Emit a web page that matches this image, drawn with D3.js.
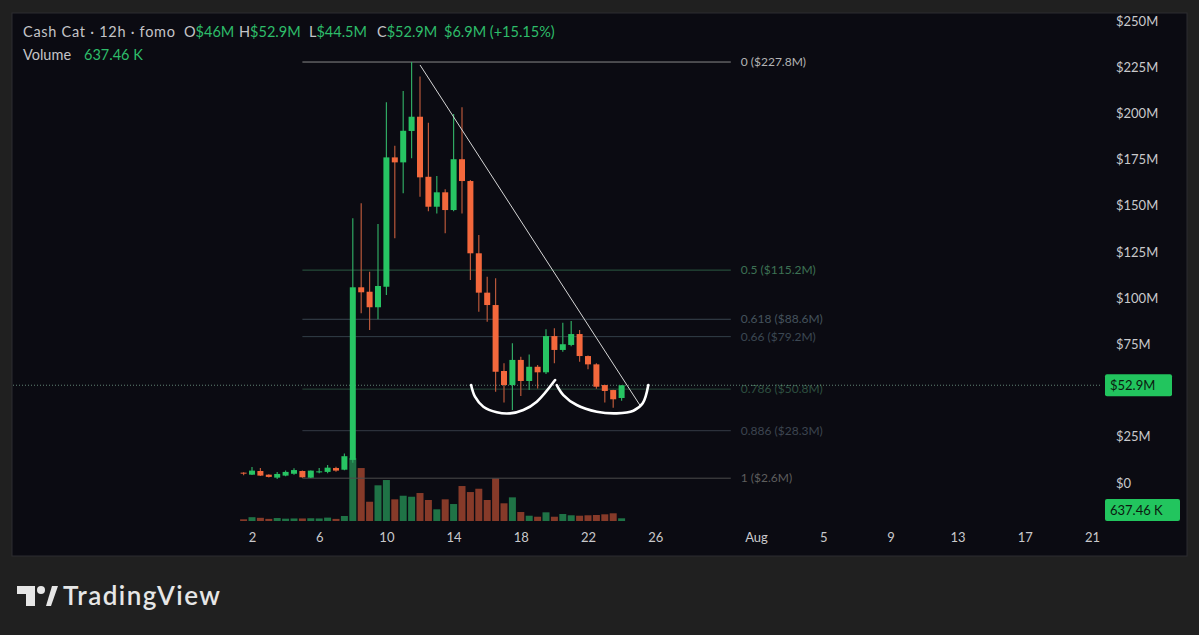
<!DOCTYPE html>
<html>
<head>
<meta charset="utf-8">
<script src="https://cdn.jsdelivr.net/npm/d3@7"></script>
<style>
  html, body { margin: 0; padding: 0; background: #202020; }
  svg { display: block; }
  text { font-family: Lato, "Noto Sans", sans-serif; }
</style>
</head>
<body>
<script>
// candles are 12h apart, first one at this time
const candleStart = '2024-07-01T12:00:00Z';

// OHLC in $M
const opens = [5.6, 4.5, 6.5, 4.5, 2.9, 4.0, 5.0, 6.5, 2.9, 5.8, 6.0, 8.1,
  7.2, 12.5, 105.9, 103.5, 95.1, 106.2, 176.2, 173.5, 190.5, 198.2, 165.7, 149.5,
  157.3, 147.7, 175.2, 163.4, 124.3, 103.0, 96.3, 60.6, 53.0, 66.6, 55.2, 62.9,
  59.9, 79.5, 72.0, 74.7, 80.6, 68.7, 64.2, 53.0, 50.3, 46.0];
const highs = [5.8, 8.7, 8.1, 4.7, 6.0, 6.7, 8.0, 6.7, 6.8, 8.1, 9.7, 8.8,
  15.9, 143.2, 151.4, 114.3, 140.2, 206.0, 182.5, 212.1, 227.8, 219.9, 195.0, 166.1,
  158.9, 199.7, 203.3, 164.0, 134.2, 111.6, 110.8, 64.8, 75.6, 68.3, 69.6, 63.8,
  83.2, 83.7, 86.7, 87.7, 82.8, 69.0, 64.8, 53.2, 50.5, 52.9];
const lows = [4.2, 4.3, 3.8, 3.0, 2.2, 3.6, 4.5, 2.9, 2.7, 5.3, 5.3, 6.1,
  6.9, 11.0, 91.8, 82.8, 88.6, 101.7, 132.4, 156.8, 175.7, 154.9, 147.0, 145.9,
  135.1, 147.0, 145.9, 109.8, 92.7, 87.3, 49.4, 43.5, 39.5, 47.1, 50.3, 51.2,
  59.0, 64.8, 71.0, 74.0, 65.6, 61.5, 51.0, 43.5, 40.7, 44.5];
const closes = [5.3, 6.7, 4.0, 3.3, 4.9, 6.0, 7.0, 3.1, 6.7, 6.3, 8.3, 6.7,
  14.5, 105.9, 103.2, 95.1, 106.6, 176.2, 173.5, 190.6, 198.2, 165.4, 149.5, 157.3,
  147.7, 175.2, 163.4, 124.3, 103.0, 96.3, 60.2, 53.0, 66.6, 55.2, 62.9, 59.9,
  79.5, 72.0, 75.1, 80.6, 68.7, 64.2, 52.1, 49.8, 45.3, 52.9];
// volume in thousands
const volumes = [400, 900, 750, 500, 700, 550, 600, 600, 650, 600, 800, 500,
  1180, 14870, 12510, 4550, 8430, 9680, 5120, 5970, 5730, 6610, 4960, 2760,
  5120, 4010, 8260, 6840, 7620, 4960, 10080, 4180, 5590, 2120, 1250, 1010,
  2050, 1010, 1650, 1350, 1250, 1350, 1420, 1580, 1820, 637.46];

const priceTicks = [0, 25, 75, 100, 125, 150, 175, 200, 225, 250];
const dateTicks = ['2024-07-02', '2024-07-06', '2024-07-10', '2024-07-14', '2024-07-18',
  '2024-07-22', '2024-07-26', '2024-08-01', '2024-08-05', '2024-08-09', '2024-08-13',
  '2024-08-17', '2024-08-21'];

// fib retracement drawn on the chart
const fibLevels = [0, 0.5, 0.618, 0.66, 0.786, 0.886, 1];
const fibPrices = [227.8, 115.2, 88.6, 79.2, 50.8, 28.3, 2.6];
const fibRange = ['2024-07-05T00:00:00Z', '2024-07-30T12:00:00Z'];

// falling trend line
const trendDates = ['2024-07-12T00:00:00Z', '2024-07-25T02:00:00Z'];
const trendPrices = [226.2, 42.2];

// hand drawn double bottom
const arcLeftDates = ['2024-07-15T01:00:00Z', '2024-07-15T06:30:00Z', '2024-07-15T18:30:00Z',
  '2024-07-16T13:40:00Z', '2024-07-17T08:40:00Z', '2024-07-18T03:40:00Z', '2024-07-18T22:50:00Z',
  '2024-07-20T01:00:00Z'];
const arcLeftPrices = [53.0, 46.7, 41.3, 38.3, 37.7, 39.5, 44.0, 55.7];
const arcRightDates = ['2024-07-20T03:20:00Z', '2024-07-20T12:45:00Z', '2024-07-21T07:50:00Z',
  '2024-07-22T12:30:00Z', '2024-07-23T17:00:00Z', '2024-07-24T16:50:00Z', '2024-07-25T06:10:00Z',
  '2024-07-25T14:10:00Z'];
const arcRightPrices = [53.0, 47.6, 42.2, 38.6, 37.7, 39.1, 43.1, 53.0];

const lastPrice = 52.9;
const lastVolume = 637.46;

const green = '#27c463';
const red = '#f4683c';
const fibLineColors = ['#8a8a8a', '#2c5a42', '#3a4650', '#333f48', '#284a3a', '#343b45', '#4c4c4c'];
const fibTextColors = ['#b4b4b4', '#3d7254', '#45535d', '#3c4853', '#2e5040', '#3d4550', '#5e5e5e'];

const width = 1199;
const height = 635;
const panel = { x: 12, y: 13, w: 1175, h: 543 };
const plotRight = 1100;

const svg = d3.select('body').append('svg')
  .attr('width', width)
  .attr('height', height);

svg.append('rect')
  .attr('width', width).attr('height', height)
  .attr('fill', '#202020');

svg.append('rect')
  .attr('x', panel.x).attr('y', panel.y)
  .attr('width', panel.w).attr('height', panel.h)
  .attr('fill', '#0b0b12')
  .attr('stroke', '#2c2c30');

// scales
const x = d3.scaleUtc()
  .domain([new Date('2024-07-02T00:00:00Z'), new Date('2024-08-21T00:00:00Z')])
  .range([252, 1092]);
const y = d3.scaleLinear().domain([0, 250]).range([483, 21]);
const yVol = d3.scaleLinear().domain([0, 15000]).range([521, 457.5]);

const t0 = new Date(candleStart).getTime();
const candles = opens.map((o, i) => ({
  date: new Date(t0 + i * 12 * 3600 * 1000),
  open: o, high: highs[i], low: lows[i], close: closes[i], volume: volumes[i],
}));

const bodyW = 6;

// volume bars
svg.append('g').selectAll('rect')
  .data(candles)
  .join('rect')
  .attr('x', d => x(d.date) - bodyW / 2 - 0.5)
  .attr('width', bodyW + 1)
  .attr('y', d => yVol(d.volume))
  .attr('height', d => yVol(0) - yVol(d.volume))
  .attr('fill', d => (d.close >= d.open ? '#1f7346' : '#863a29'));

// fib lines
const fib = svg.append('g');
fibLevels.forEach((lv, i) => {
  fib.append('line')
    .attr('x1', x(new Date(fibRange[0])))
    .attr('x2', x(new Date(fibRange[1])))
    .attr('y1', y(fibPrices[i]))
    .attr('y2', y(fibPrices[i]))
    .attr('stroke', fibLineColors[i])
    .attr('stroke-width', 1);
  fib.append('text')
    .attr('x', x(new Date(fibRange[1])) + 10)
    .attr('y', y(fibPrices[i]))
    .attr('dy', '0.35em')
    .attr('font-size', 12)
    .attr('fill', fibTextColors[i])
    .text(`${lv} ($${fibPrices[i]}M)`);
});

// last price dotted line
svg.append('line')
  .attr('x1', panel.x + 1).attr('x2', plotRight)
  .attr('y1', y(lastPrice)).attr('y2', y(lastPrice))
  .attr('stroke', '#7fae95')
  .attr('stroke-opacity', 0.75)
  .attr('stroke-dasharray', '1,2');

// candles
const cg = svg.append('g');
cg.selectAll('line')
  .data(candles)
  .join('line')
  .attr('x1', d => x(d.date)).attr('x2', d => x(d.date))
  .attr('y1', d => y(d.high)).attr('y2', d => y(d.low))
  .attr('stroke', d => (d.close >= d.open ? '#2fa862' : '#b8573a'))
  .attr('stroke-width', 1.2);
cg.selectAll('rect')
  .data(candles)
  .join('rect')
  .attr('x', d => x(d.date) - bodyW / 2)
  .attr('width', bodyW)
  .attr('y', d => y(Math.max(d.open, d.close)))
  .attr('height', d => Math.max(1, Math.abs(y(d.open) - y(d.close))))
  .attr('fill', d => (d.close >= d.open ? green : red));

// trend line
svg.append('line')
  .attr('x1', x(new Date(trendDates[0]))).attr('y1', y(trendPrices[0]))
  .attr('x2', x(new Date(trendDates[1]))).attr('y2', y(trendPrices[1]))
  .attr('stroke', '#d6d6d6')
  .attr('stroke-width', 1);

// double bottom drawing
const arcLine = d3.line()
  .x(d => x(new Date(d[0])))
  .y(d => y(d[1]))
  .curve(d3.curveCatmullRom);
[[arcLeftDates, arcLeftPrices], [arcRightDates, arcRightPrices]].forEach(([ds, ps]) => {
  svg.append('path')
    .attr('d', arcLine(ds.map((d, i) => [d, ps[i]])))
    .attr('fill', 'none')
    .attr('stroke', '#ffffff')
    .attr('stroke-width', 2.6)
    .attr('stroke-linecap', 'round');
});

// time axis
const xAxis = svg.append('g')
  .attr('transform', 'translate(0,530)')
  .call(d3.axisBottom(x)
    .tickValues(dateTicks.map(d => new Date(d + 'T00:00:00Z')))
    .tickSize(0)
    .tickPadding(3)
    .tickFormat(d => (d.getUTCDate() === 1 ? d3.utcFormat('%b')(d) : d.getUTCDate())));
xAxis.select('.domain').remove();
xAxis.selectAll('text')
  .attr('fill', '#c9c9cc')
  .attr('font-size', 13)
  .attr('font-family', 'Lato, sans-serif');

// price axis
const yAxis = svg.append('g')
  .attr('transform', `translate(${plotRight + 10},0)`)
  .call(d3.axisRight(y)
    .tickValues(priceTicks)
    .tickSize(0)
    .tickPadding(6)
    .tickFormat(d => (d === 0 ? '$0' : `$${d}M`)));
yAxis.select('.domain').remove();
yAxis.selectAll('text')
  .attr('fill', '#c9c9cc')
  .attr('font-size', 13)
  .attr('font-family', 'Lato, sans-serif');

// price badges
function badge(cy, label, w) {
  svg.append('rect')
    .attr('x', 1105).attr('y', cy - 11)
    .attr('width', w).attr('height', 22)
    .attr('rx', 2)
    .attr('fill', '#22c55e');
  svg.append('text')
    .attr('x', 1110).attr('y', cy)
    .attr('dy', '0.36em')
    .attr('font-size', 13)
    .attr('fill', '#0b1a10')
    .text(label);
}
badge(y(lastPrice), `$${lastPrice}M`, 67);
badge(Math.min(yVol(lastVolume), 521 - 11), `${lastVolume} K`, 75);

// legend / header
const head = svg.append('g')
  .attr('font-size', 14.5)
  .attr('font-family', '"Noto Sans", Lato, sans-serif');
head.append('text').attr('x', 23).attr('y', 37).attr('fill', '#c4c4c8')
  .attr('textLength', 152)
  .text('Cash Cat · 12h · fomo');
const ohlc = [['O', '$46M', 184], ['H', '$52.9M', 239], ['L', '$44.5M', 309],
  ['C', '$52.9M', 377], ['', '$6.9M (+15.15%)', 444]];
ohlc.forEach(([k, v, px]) => {
  const t = head.append('text').attr('x', px).attr('y', 37);
  t.append('tspan').attr('fill', '#c4c4c8').text(k);
  t.append('tspan').attr('fill', '#2ebd6a').text(v);
});
head.append('text').attr('x', 23).attr('y', 60).attr('fill', '#c4c4c8').text('Volume');
head.append('text').attr('x', 84).attr('y', 60).attr('fill', '#2ebd6a').text('637.46 K');

// TradingView logo
const logo = svg.append('g').attr('fill', '#e6e6e6');
logo.append('path').attr('d', 'M17 586 H35 V606 H26 V594 H17 Z');
logo.append('circle').attr('cx', 41).attr('cy', 590).attr('r', 4);
logo.append('path').attr('d', 'M46 606 L52 586 H58 L51 606 Z');
logo.append('text')
  .attr('x', 63).attr('y', 605)
  .attr('font-size', 26)
  .attr('font-weight', 600)
  .attr('font-family', 'Inter, "Open Sans", sans-serif')
  .attr('textLength', 157)
  .attr('fill', '#e6e6e6')
  .text('TradingView');
</script>
</body>
</html>
